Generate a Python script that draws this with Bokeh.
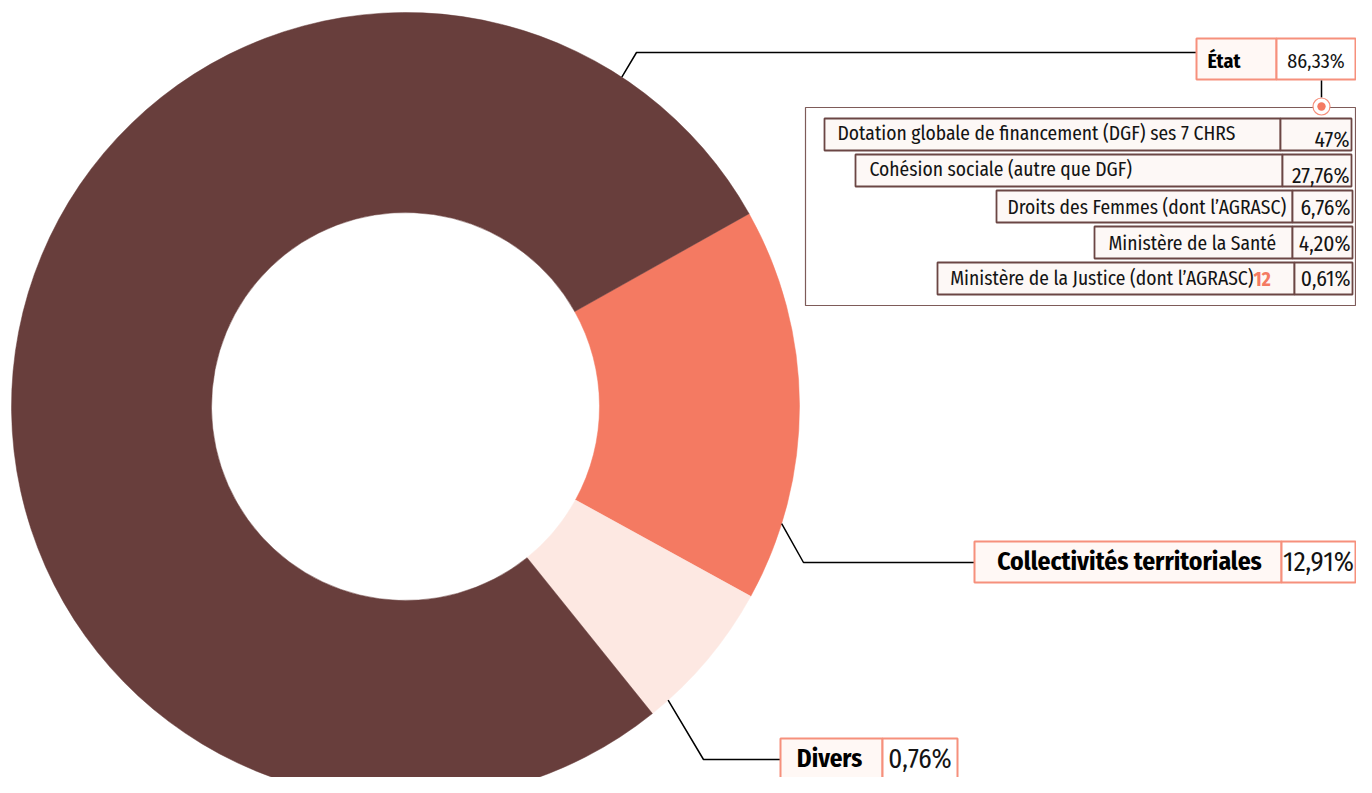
import numpy as np
from bokeh.plotting import figure
from bokeh.models import Range1d
from bokeh.core.properties import value
from bokeh.embed import file_html
from bokeh.resources import INLINE

# ---------------- data ----------------
categories = ["État", "Collectivités territoriales", "Divers"]
label_values = ["86,33%", "12,91%", "0,76%"]
# angular share of the ring as drawn in the picture (%)
drawn_shares = [77.64, 16.14, 6.22]
slice_colors = ["#683e3c", "#f47a62", "#fde8e2"]

etat_items = [
    "Dotation globale de financement (DGF) ses 7 CHRS",
    "Cohésion sociale (autre que DGF)",
    "Droits des Femmes (dont l\u2019AGRASC)",
    "Ministère de la Santé",
    "Ministère de la Justice (dont l\u2019AGRASC)",
]
etat_values = ["47%", "27,76%", "6,76%", "4,20%", "0,61%"]
note_mark = "12"

# ---------------- figure ----------------
W, H = 1356, 777
p = figure(width=W, height=H, x_range=Range1d(0, W), y_range=Range1d(0, H),
           output_backend="svg", toolbar_location=None,
           x_axis_location=None, y_axis_location=None,
           min_border=0, outline_line_color=None)
p.grid.visible = False
p.background_fill_color = "white"

def sy(y):
    return H - y

FONT = value("'Fira Sans Condensed', sans-serif")
TXT = "#141414"

# ---------------- donut ----------------
cx, cy = 405, sy(406)
R_OUT, R_IN = 394, 194
order = [1, 2, 0]  # clockwise from the upper-right edge
a = np.deg2rad(29.3)
starts, ends, cols = [], [], []
for i in order:
    span = drawn_shares[i] / 100.0 * 2 * np.pi
    starts.append(a - span)
    ends.append(a)
    cols.append(slice_colors[i])
    a -= span
p.annular_wedge(x=cx, y=cy, inner_radius=R_IN, outer_radius=R_OUT,
                start_angle=starts, end_angle=ends,
                fill_color=cols, line_color=cols, line_width=0.5)

# ---------------- leader lines ----------------
def anchor(deg):
    t = np.deg2rad(deg)
    return cx + R_OUT * np.cos(t), cy + R_OUT * np.sin(t)

leaders = [
    (56.7, (636, 52), (1196, 52)),
    (-17.3, (803, 562), (974, 562)),
    (-48.2, (703, 759), (780, 759)),
]
xs, ys = [], []
for deg, elbow, end in leaders:
    ax, ay = anchor(deg)
    xs.append([ax, elbow[0], end[0]])
    ys.append([ay, sy(elbow[1]), sy(end[1])])
p.multi_line(xs=xs, ys=ys, line_color="black", line_width=1.5)

# ---------------- main labels ----------------
CORAL_LINE = "#f6907c"
boxes = [  # left, divider, right, top, bottom, label x, align, size, value size, text y
    (1196, 1276, 1355, 38, 79, 1207, "left", 20, 20, 60),
    (974, 1281, 1355, 541, 582, 1129, "center", 25.5, 27, 561),
    (780, 882, 957, 738, 780, 829, "center", 25, 27, 758),
]
for k, (l, d, r, t, b, lx, al, fs, vs, ty) in enumerate(boxes):
    p.quad(left=[l], right=[d], top=[sy(t)], bottom=[sy(b)],
           fill_color="#fff8f5", line_color=CORAL_LINE, line_width=2)
    p.quad(left=[d], right=[r], top=[sy(t)], bottom=[sy(b)],
           fill_color="white", line_color=CORAL_LINE, line_width=2)
    p.text(x=[lx], y=[sy(ty)], text=[categories[k]], text_font=FONT,
           text_font_size=f"{fs}px", text_font_style="bold", text_color="black",
           text_align=al, text_baseline="middle")
    p.text(x=[(d + r) / 2], y=[sy(ty)], text=[label_values[k]], text_font=FONT,
           text_font_size=f"{vs}px", text_color=TXT,
           text_align="center", text_baseline="middle")

# connector from État value cell
p.line(x=[1321, 1321], y=[sy(80), sy(97)], line_color="black", line_width=1.5)

# ---------------- État breakdown table ----------------
BROWN_LINE = "#6b4644"
p.quad(left=[805], right=[1355], top=[sy(107)], bottom=[sy(305)],
       fill_color=None, line_color="#7e5b59", line_width=1.2)
p.circle(x=[1321], y=[sy(106)], radius=8.5, fill_color="white",
         line_color=CORAL_LINE, line_width=1.2)
p.circle(x=[1321], y=[sy(106)], radius=4.2, fill_color="#f47a62", line_color=None)

DX = -8
rows = [  # left, divider, right, top, bottom, text x, label dy, value dy
    (832, 1288, 1359, 118, 150, 845, -1, 5),
    (863, 1290, 1359, 154, 186, 877, -1, 5),
    (1004, 1300, 1360, 190, 222, 1015, 1, 1),
    (1102, 1300, 1360, 226, 258, 1116, 1, 1),
    (945, 1302, 1360, 262, 294, 955, 0, 0),
]
for k, (l, d, r, t, b, tx, ldy, vdy) in enumerate(rows):
    l, d, r, tx = l + DX, d + DX, r + DX, tx + DX
    p.quad(left=[l, d], right=[d, r], top=[sy(t)] * 2, bottom=[sy(b)] * 2,
           fill_color="#fdf8f6", line_color=BROWN_LINE, line_width=1.8)
    ym = (t + b) / 2
    if k == 4:
        p.text(x=[1261 + DX], y=[sy(ym + ldy)], text=[etat_items[k]], text_font=FONT,
               text_font_size="19.5px", text_color=TXT, text_align="right",
               text_baseline="middle")
        p.text(x=[1261 + DX], y=[sy(ym + ldy)], text=[note_mark], text_font=FONT,
               text_font_size="19.5px", text_font_style="bold", text_color="#f47a62",
               text_align="left", text_baseline="middle")
    else:
        p.text(x=[tx], y=[sy(ym + ldy)], text=[etat_items[k]], text_font=FONT,
               text_font_size="19.5px", text_color=TXT, text_align="left",
               text_baseline="middle")
    p.text(x=[r - 2], y=[sy(ym + vdy)], text=[etat_values[k]], text_font=FONT,
           text_font_size="21.5px", text_color=TXT, text_align="right",
           text_baseline="middle")

open("out.html", "w").write(file_html(p, INLINE))
